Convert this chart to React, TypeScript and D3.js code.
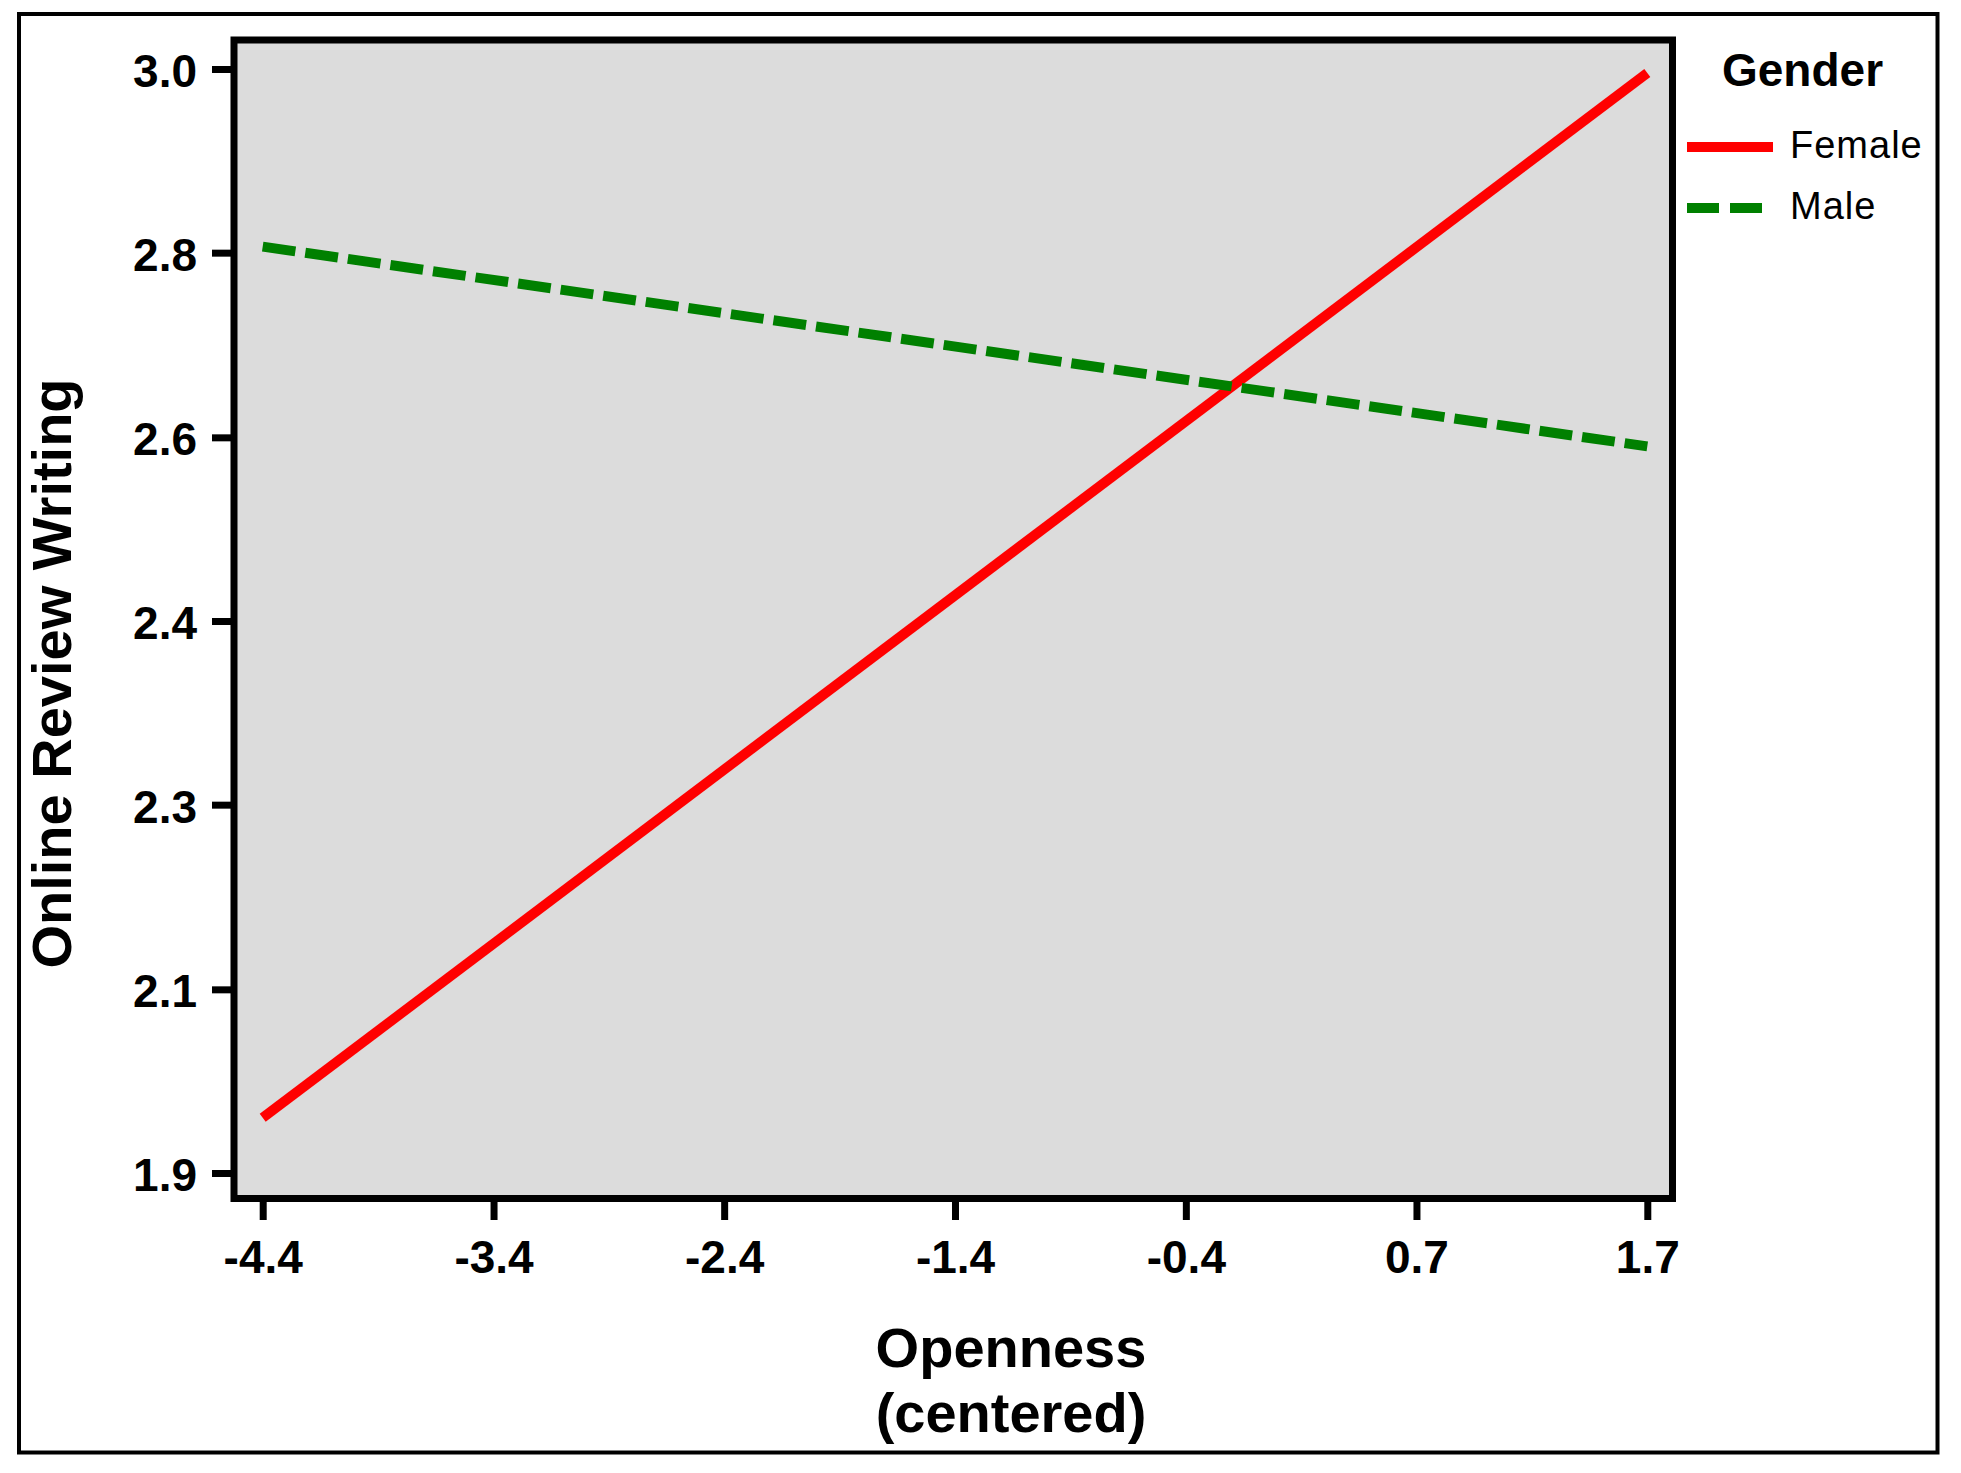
import React, { useEffect, useRef } from 'react';
import * as d3 from 'd3';

// values
const opennessX = [-4.4, 1.7];
const femaleY = [1.955, 2.996];
const maleY = [2.823, 2.624];

const xTickValues = [-4.4, -3.383, -2.367, -1.35, -0.333, 0.683, 1.7];
const xTickLabels = ['-4.4', '-3.4', '-2.4', '-1.4', '-0.4', '0.7', '1.7'];
const yTickValues = [1.9, 2.083, 2.267, 2.45, 2.633, 2.817, 3.0];
const yTickLabels = ['1.9', '2.1', '2.3', '2.4', '2.6', '2.8', '3.0'];

const seriesNames = ['Female', 'Male'];
const seriesColors = ['#ff0000', '#008000'];

const FONT = '"Liberation Sans", Arial, sans-serif';

function App() {
  const ref = useRef<SVGSVGElement>(null);

  useEffect(() => {
    const svg = d3.select(ref.current);
    svg.selectAll('*').remove();

    const width = 1961;
    const height = 1473;
    const panel = { left: 234, top: 40, right: 1672.5, bottom: 1198.5 };

    const x = d3.scaleLinear().domain([-4.4, 1.7]).range([262.7, 1647.3]);
    const y = d3.scaleLinear().domain([1.9, 3.0]).range([1173, 69]);

    svg.attr('width', width).attr('height', height);

    // outer frame
    svg.append('rect')
      .attr('x', 19).attr('y', 14)
      .attr('width', 1918.5).attr('height', 1438.5)
      .attr('fill', '#ffffff')
      .attr('stroke', '#000').attr('stroke-width', 4);

    // plot panel
    svg.append('rect')
      .attr('x', panel.left).attr('y', panel.top)
      .attr('width', panel.right - panel.left)
      .attr('height', panel.bottom - panel.top)
      .attr('fill', '#dcdcdc');

    const series = [femaleY, maleY];
    const line = d3.line<number>()
      .x((_, i) => x(opennessX[i]))
      .y(d => d);

    series.forEach((vals, s) => {
      svg.append('path')
        .datum(vals.map(v => y(v)))
        .attr('d', line)
        .attr('fill', 'none')
        .attr('stroke', seriesColors[s])
        .attr('stroke-width', 10)
        .attr('stroke-dasharray', s === 1 ? '33,10' : null);
    });

    // panel border on top of lines
    svg.append('rect')
      .attr('x', panel.left).attr('y', panel.top)
      .attr('width', panel.right - panel.left)
      .attr('height', panel.bottom - panel.top)
      .attr('fill', 'none')
      .attr('stroke', '#000').attr('stroke-width', 7);

    // x axis
    const xAxis = svg.append('g')
      .attr('transform', 'translate(0,1202)')
      .call(d3.axisBottom(x)
        .tickValues(xTickValues)
        .tickFormat((_, i) => xTickLabels[i])
        .tickSize(18)
        .tickPadding(20));
    xAxis.select('.domain').remove();
    xAxis.selectAll('line').attr('stroke', '#000').attr('stroke-width', 7);
    xAxis.selectAll('text')
      .attr('fill', '#000')
      .style('font-family', FONT)
      .style('font-weight', 'bold')
      .style('font-size', '46px');

    // y axis
    const yAxis = svg.append('g')
      .attr('transform', 'translate(231,0)')
      .call(d3.axisLeft(y)
        .tickValues(yTickValues)
        .tickFormat((_, i) => yTickLabels[i])
        .tickSize(19)
        .tickPadding(15));
    yAxis.select('.domain').remove();
    yAxis.selectAll('line').attr('stroke', '#000').attr('stroke-width', 7);
    yAxis.selectAll('text')
      .attr('fill', '#000')
      .attr('dy', '0.38em')
      .style('font-family', FONT)
      .style('font-weight', 'bold')
      .style('font-size', '46px');

    // axis titles
    const xTitle = svg.append('text')
      .attr('text-anchor', 'middle')
      .style('font-family', FONT)
      .style('font-weight', 'bold')
      .style('font-size', '56px');
    xTitle.append('tspan').attr('x', 1011).attr('y', 1367).text('Openness');
    xTitle.append('tspan').attr('x', 1011).attr('y', 1432).text('(centered)');

    svg.append('text')
      .attr('transform', 'translate(71,673.5) rotate(-90)')
      .attr('text-anchor', 'middle')
      .style('font-family', FONT)
      .style('font-weight', 'bold')
      .style('font-size', '56px')
      .text('Online Review Writing');

    // legend
    svg.append('text')
      .attr('x', 1722).attr('y', 86)
      .style('font-family', FONT)
      .style('font-weight', 'bold')
      .style('font-size', '46px')
      .text('Gender');

    seriesNames.forEach((name, i) => {
      const ly = 147 + i * 61;
      svg.append('line')
        .attr('x1', 1687).attr('x2', i === 1 ? 1763 : 1773)
        .attr('y1', ly).attr('y2', ly)
        .attr('stroke', seriesColors[i])
        .attr('stroke-width', 10)
        .attr('stroke-dasharray', i === 1 ? '32,11' : null);
      svg.append('text')
        .attr('x', 1790).attr('y', ly + 11)
        .style('font-family', FONT)
        .style('font-size', '38px')
        .style('letter-spacing', '1px')
        .text(name);
    });
  }, []);

  return (
    <svg ref={ref} style={{ position: 'absolute', left: 0, top: 0, background: '#fff' }} />
  );
}

export default App;
